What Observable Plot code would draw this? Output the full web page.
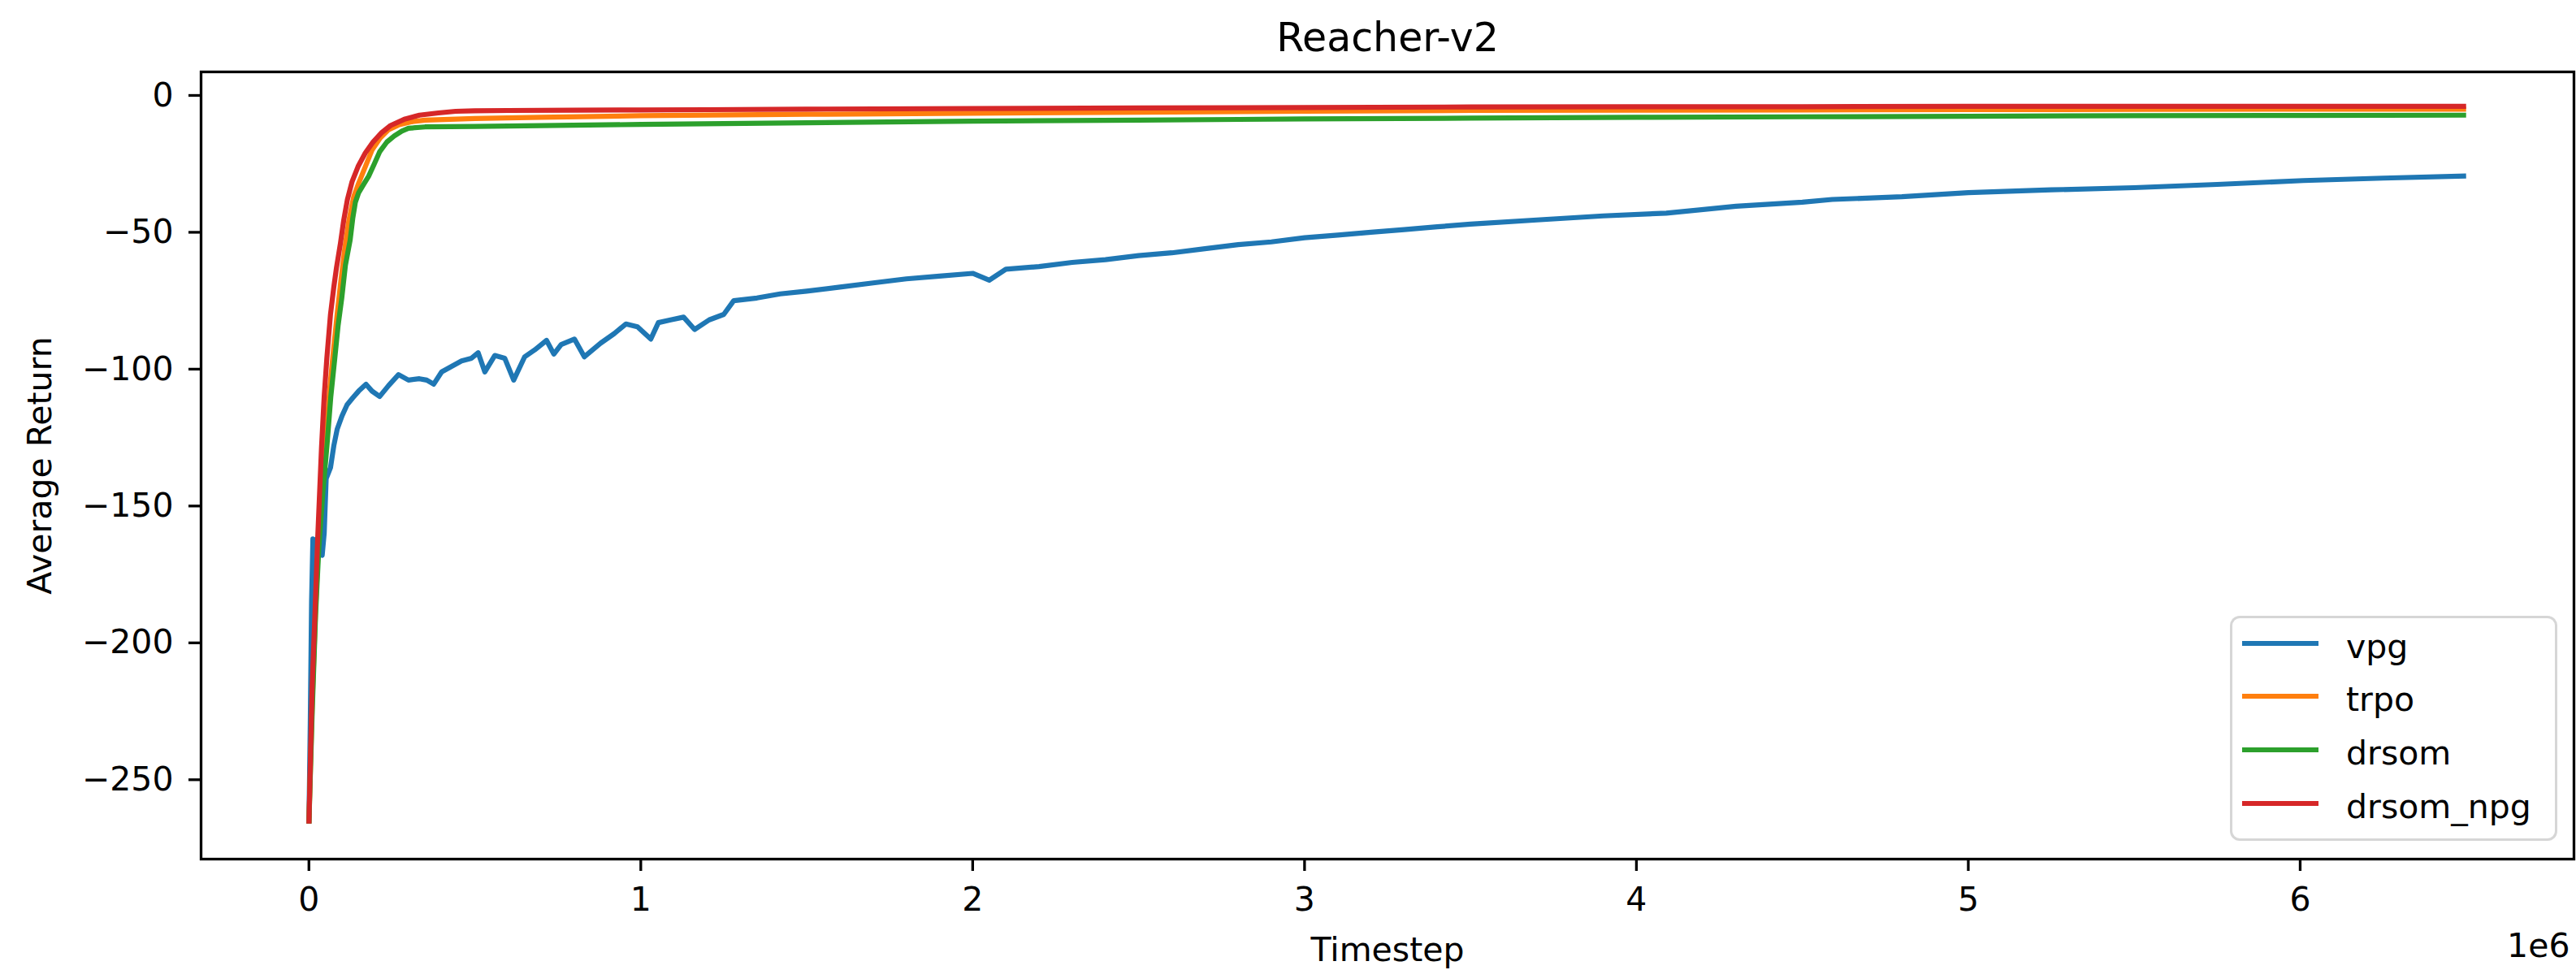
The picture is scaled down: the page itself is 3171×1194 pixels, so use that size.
<!DOCTYPE html>
<html>
<head>
<meta charset="utf-8">
<script src="https://cdn.jsdelivr.net/npm/d3@7"></script>
<script src="https://cdn.jsdelivr.net/npm/@observablehq/plot@0.6"></script>
<style>
  html, body { margin: 0; padding: 0; background: #fff; }
  #wrap { position: relative; width: 3171px; height: 1194px; font-family: "DejaVu Sans", sans-serif; }
  #legend { position: absolute; left: 2745px; top: 758px; width: 403px; height: 277px; box-sizing: border-box;
            border: 3px solid rgba(204,204,204,0.8); border-radius: 12px; background: rgba(255,255,255,0.8); }
  .row { position: absolute; left: 0; height: 60px; display: flex; align-items: center; }
  .swatch { margin-left: 12px; width: 94px; height: 6px; }
  .lab { margin-left: 34px; font-size: 41px; color: #000; position: relative; top: 4px; white-space: nowrap; }
</style>
</head>
<body>
<div id="wrap"></div>
<script>
// Series names and colours
const seriesNames = ["vpg", "trpo", "drsom", "drsom_npg"];
const seriesColors = ["#1f77b4", "#ff7f0e", "#2ca02c", "#d62728"];

// Timestep (in units of 1e6) and Average Return per series
const vpgX = [0,0.004,0.008,0.012,0.025,0.04,0.046,0.052,0.065,0.075,0.085,0.1,0.115,0.132,0.15,0.172,0.19,0.213,0.24,0.27,0.3,0.333,0.355,0.376,0.4,0.43,0.46,0.49,0.51,0.53,0.56,0.59,0.617,0.65,0.68,0.716,0.738,0.76,0.8,0.83,0.879,0.92,0.955,0.99,1.03,1.053,1.09,1.129,1.162,1.206,1.25,1.28,1.35,1.42,1.5,1.6,1.7,1.8,1.9,2.0,2.05,2.1,2.2,2.3,2.4,2.5,2.6,2.7,2.8,2.9,3.0,3.1,3.2,3.3,3.4,3.5,3.7,3.9,4.09,4.3,4.5,4.59,4.8,5.0,5.25,5.5,5.75,6.01,6.25,6.5];
const vpgY = [-266,-230,-185,-162,-163,-168,-160,-140,-136,-128,-122,-117,-113,-110.5,-108,-105.5,-108,-110,-106,-102,-104,-103.5,-104,-105.5,-101,-99,-97,-96,-94,-101,-95,-96,-104,-95.5,-93,-89.5,-94.5,-91,-89,-95.5,-90.5,-87,-83.5,-84.5,-89,-83,-82,-81,-85.5,-82,-80,-75,-74,-72.5,-71.5,-70,-68.5,-67,-66,-65,-67.5,-63.5,-62.5,-61,-60,-58.5,-57.5,-56,-54.5,-53.5,-52,-51,-50,-49,-48,-47,-45.5,-44,-43,-40.5,-39,-38,-37,-35.5,-34.5,-33.7,-32.5,-31.1,-30.2,-29.4];

const trpoX = [0,0.01,0.02,0.03,0.042,0.052,0.062,0.074,0.085,0.096,0.108,0.12,0.135,0.15,0.17,0.19,0.215,0.24,0.27,0.31,0.35,0.5,0.7,1.0,1.5,2.0,2.5,3.0,3.5,4.0,4.5,5.0,5.5,6.0,6.5];
const trpoY = [-266,-222,-188,-160,-140,-125,-108,-93,-80,-68,-56,-46,-37,-32,-26,-20,-15.5,-12.5,-10.8,-9.6,-9.0,-8.4,-8.0,-7.4,-6.9,-6.5,-6.1,-5.8,-5.5,-5.4,-5.3,-5.2,-5.1,-5.0,-5.0];

const drsomX = [0,0.01,0.02,0.03,0.042,0.054,0.066,0.078,0.088,0.099,0.11,0.124,0.132,0.14,0.15,0.165,0.18,0.197,0.213,0.235,0.257,0.28,0.3,0.35,0.5,0.7,1.0,1.5,2.0,2.5,3.0,3.5,4.0,4.5,5.0,5.5,6.0,6.5];
const drsomY = [-266,-225,-190,-165,-145,-128.5,-110,-96,-84,-74,-62,-53,-45,-39,-35.5,-32.5,-29.5,-25,-20.6,-17,-14.8,-13,-12,-11.5,-11.3,-11,-10.6,-10,-9.4,-9,-8.6,-8.3,-8,-7.8,-7.6,-7.4,-7.3,-7.2];

const npgX = [0,0.005,0.01,0.018,0.026,0.038,0.046,0.054,0.065,0.075,0.083,0.095,0.105,0.116,0.13,0.148,0.17,0.192,0.22,0.246,0.29,0.333,0.39,0.442,0.5,0.6,0.8,1.0,1.2,1.5,2.0,2.5,3.0,3.5,4.0,4.5,5.0,5.5,6.0,6.5];
const npgY = [-266,-240,-215,-190,-163,-128.5,-110,-96,-80,-70,-63,-54,-45.5,-38,-31.5,-26,-21,-17.2,-13.5,-11,-8.6,-7.2,-6.4,-5.8,-5.6,-5.5,-5.4,-5.3,-5.2,-5.0,-4.8,-4.6,-4.4,-4.2,-4.1,-4.1,-4.0,-4.0,-4.0,-4.0];

// Axis ticks
const xTicks = [0, 1, 2, 3, 4, 5, 6];
const yTicks = [0, -50, -100, -150, -200, -250];

const allX = [vpgX, trpoX, drsomX, npgX];
const allY = [vpgY, trpoY, drsomY, npgY];
const rows = [];
seriesNames.forEach((name, i) => {
  allX[i].forEach((x, j) => rows.push({series: name, x, y: allY[i][j]}));
});

const font = "DejaVu Sans";
const plot = Plot.plot({
  width: 3171,
  height: 1194,
  marginLeft: 247,
  marginRight: 3,
  marginTop: 88,
  marginBottom: 137,
  style: {fontFamily: font, fontSize: "41px", background: "white", color: "black", overflow: "visible"},
  x: {domain: [-0.325, 6.825]},
  y: {domain: [-279, 8.6]},
  color: {domain: seriesNames, range: seriesColors},
  marks: [
    Plot.line(rows, {x: "x", y: "y", z: "series", stroke: "series", strokeWidth: 6.2, strokeLinejoin: "round", strokeLinecap: "butt"}),
    Plot.frame({stroke: "black", strokeWidth: 3.3}),
    Plot.axisX({ticks: xTicks, tickSize: 15, tickPadding: 19, strokeWidth: 3.3, fontSize: 41, label: null, tickFormat: d => String(d)}),
    Plot.axisY({ticks: yTicks, tickSize: 15, tickPadding: 19, strokeWidth: 3.3, fontSize: 41, label: null, tickFormat: d => d < 0 ? "\u2212" + Math.abs(d) : String(d)}),
    Plot.text(["Reacher-v2"], {frameAnchor: "top", dy: -26, lineAnchor: "bottom", textAnchor: "middle", fontSize: 49, fill: "black"}),
    Plot.text(["Timestep"], {frameAnchor: "bottom", dy: 125, lineAnchor: "bottom", textAnchor: "middle", fontSize: 41, fill: "black"}),
    Plot.text(["1e6"], {frameAnchor: "bottom-right", dy: 120, dx: -5, lineAnchor: "bottom", textAnchor: "end", fontSize: 41, fill: "black"}),
    Plot.text(["Average Return"], {frameAnchor: "left", dx: -185, rotate: -90, lineAnchor: "bottom", textAnchor: "middle", fontSize: 41, fill: "black"})
  ]
});
const wrap = document.getElementById("wrap");
wrap.appendChild(plot);

// Legend
const legend = document.createElement("div");
legend.id = "legend";
const rowCenters = [34, 99, 165, 231];
seriesNames.forEach((name, i) => {
  const r = document.createElement("div");
  r.className = "row";
  r.style.top = (rowCenters[i] - 3 - 30) + "px";
  r.innerHTML = `<span class="swatch" style="background:${seriesColors[i]}"></span><span class="lab">${name}</span>`;
  legend.appendChild(r);
});
wrap.appendChild(legend);
</script>
</body>
</html>
